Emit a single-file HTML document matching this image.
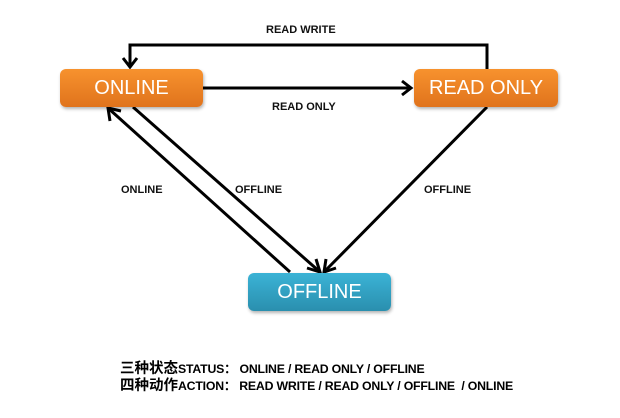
<!DOCTYPE html>
<html><head><meta charset="utf-8"><style>
body{margin:0;width:620px;height:418px;background:#fff;position:relative;overflow:hidden;font-family:"Liberation Sans","Noto Sans CJK SC",sans-serif}
.box{position:absolute;border-radius:6px;color:#fff;font-size:20px;text-align:center;line-height:38px;box-shadow:1px 2px 3px rgba(0,0,0,.3)}
.or{background:linear-gradient(#f7922e,#e0731c)}
.bl{background:linear-gradient(#3bb3d6,#2a8fae)}
.lb{position:absolute;font-size:11px;font-weight:bold;color:#111;white-space:nowrap}
.bt{position:absolute;left:120px;font-size:12.3px;font-weight:bold;color:#000;white-space:nowrap;letter-spacing:-0.2px;line-height:16px}
.bt span{font-size:14.5px;letter-spacing:0}
</style></head><body>
<svg width="620" height="418" style="position:absolute;left:0;top:0">
<g stroke="#000" stroke-width="3" fill="none">
<polyline points="487,69 487,45 130,45 130,67"/>
<polyline points="123,58 130,67 137,58"/>
<line x1="203" y1="88" x2="411" y2="88"/>
<polyline points="402,81 411,88 402,95"/>
<line x1="133" y1="107" x2="320" y2="272"/>
<polyline points="307,268 320,272 316,259"/>
<line x1="290" y1="272" x2="108" y2="108"/>
<polyline points="110,121 108,108 121,111"/>
<line x1="487" y1="107" x2="324" y2="272"/>
<polyline points="326,259 324,272 336,268"/>
</g></svg>
<div class="box or" style="left:60px;top:69px;width:143px;height:38px">ONLINE</div>
<div class="box or" style="left:414px;top:69px;width:144px;height:38px">READ ONLY</div>
<div class="box bl" style="left:248px;top:273px;width:143px;height:38px">OFFLINE</div>
<div class="lb" style="left:266px;top:24px">READ WRITE</div>
<div class="lb" style="left:272px;top:101px">READ ONLY</div>
<div class="lb" style="left:121px;top:184px">ONLINE</div>
<div class="lb" style="left:235px;top:184px">OFFLINE</div>
<div class="lb" style="left:424px;top:184px">OFFLINE</div>
<div class="bt" style="top:361px"><span>三种状态</span>STATUS：&nbsp;ONLINE / READ ONLY / OFFLINE</div>
<div class="bt" style="top:378px"><span>四种动作</span>ACTION：&nbsp;READ WRITE / READ ONLY / OFFLINE&nbsp; / ONLINE</div>
</body></html>
